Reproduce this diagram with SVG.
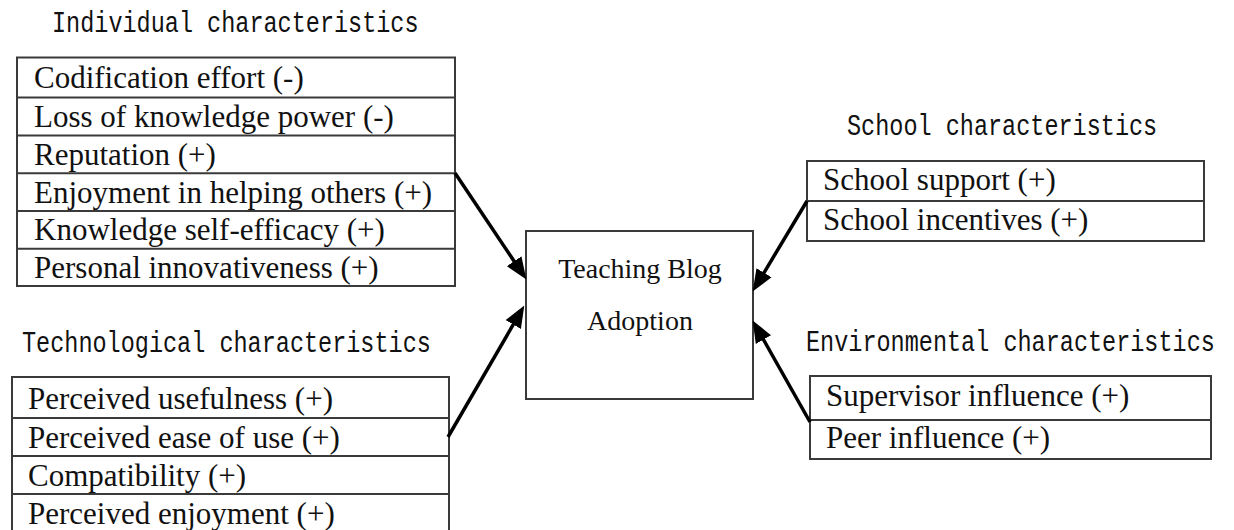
<svg xmlns="http://www.w3.org/2000/svg" width="1234" height="530" viewBox="0 0 1234 530">
<style>
.box{fill:#fff;stroke:#3a3a3a;stroke-width:2}
.sep{stroke:#3a3a3a;stroke-width:2}
.head{font-family:"Liberation Mono","DejaVu Sans Mono",monospace;font-size:23.5px;fill:#111}
.item{font-family:"Liberation Serif","Times New Roman",serif;font-size:31px;fill:#111}
.ctr{font-family:"Liberation Serif","Times New Roman",serif;font-size:28px;fill:#111;text-anchor:middle}
.arr{stroke:#000;stroke-width:3.5;fill:none;marker-end:url(#ah)}
</style>
<defs>
<marker id="ah" markerUnits="userSpaceOnUse" markerWidth="22" markerHeight="18" refX="14" refY="8" orient="auto" viewBox="0 0 20 16">
<path d="M0,0 L20,8 L0,16 z" fill="#000"/>
</marker>
</defs>
<rect width="1234" height="530" fill="#fff"/>

<g id="individual">
<text class="head" transform="translate(52,32) scale(1,1.25)" x="0" y="0">Individual characteristics</text>
<rect class="box" x="17" y="57.5" width="438" height="228.5"/>
<line class="sep" x1="17" y1="97.5" x2="455" y2="97.5"/>
<line class="sep" x1="17" y1="135.5" x2="455" y2="135.5"/>
<line class="sep" x1="17" y1="173.3" x2="455" y2="173.3"/>
<line class="sep" x1="17" y1="211" x2="455" y2="211"/>
<line class="sep" x1="17" y1="248.7" x2="455" y2="248.7"/>
<text class="item" x="34" y="88">Codification effort (-)</text>
<text class="item" x="34" y="127">Loss of knowledge power (-)</text>
<text class="item" x="34" y="165">Reputation (+)</text>
<text class="item" x="34" y="203">Enjoyment in helping others (+)</text>
<text class="item" x="34" y="240">Knowledge self-efficacy (+)</text>
<text class="item" x="34" y="278">Personal innovativeness (+)</text>
</g>

<g id="technological">
<text class="head" transform="translate(22,352) scale(1,1.25)" x="0" y="0">Technological characteristics</text>
<rect class="box" x="12" y="377" width="437" height="160"/>
<line class="sep" x1="12" y1="418" x2="449" y2="418"/>
<line class="sep" x1="12" y1="456" x2="449" y2="456"/>
<line class="sep" x1="12" y1="494" x2="449" y2="494"/>
<text class="item" x="28" y="409">Perceived usefulness (+)</text>
<text class="item" x="28" y="448">Perceived ease of use (+)</text>
<text class="item" x="28" y="486">Compatibility (+)</text>
<text class="item" x="28" y="524">Perceived enjoyment (+)</text>
</g>

<g id="adoption">
<rect class="box" x="526" y="231" width="227" height="168"/>
<text class="ctr" x="640" y="278">Teaching Blog</text>
<text class="ctr" x="640" y="330">Adoption</text>
</g>

<g id="school">
<text class="head" transform="translate(847,135) scale(1,1.25)" x="0" y="0">School characteristics</text>
<rect class="box" x="807" y="161" width="397" height="80"/>
<line class="sep" x1="807" y1="201" x2="1204" y2="201"/>
<text class="item" x="823" y="190">School support (+)</text>
<text class="item" x="823" y="230">School incentives (+)</text>
</g>

<g id="environmental">
<text class="head" transform="translate(806,351) scale(1,1.25)" x="0" y="0">Environmental characteristics</text>
<rect class="box" x="810" y="376" width="401" height="83"/>
<line class="sep" x1="810" y1="420" x2="1211" y2="420"/>
<text class="item" x="826" y="406">Supervisor influence (+)</text>
<text class="item" x="826" y="448">Peer influence (+)</text>
</g>

<g id="connectors">
<line class="arr" x1="455" y1="173" x2="522.7" y2="274"/>
<line class="arr" x1="448" y1="437" x2="521" y2="311.2"/>
<line class="arr" x1="807" y1="201" x2="756.1" y2="285.9"/>
<line class="arr" x1="810" y1="422" x2="755.9" y2="326.2"/>
</g>
</svg>
